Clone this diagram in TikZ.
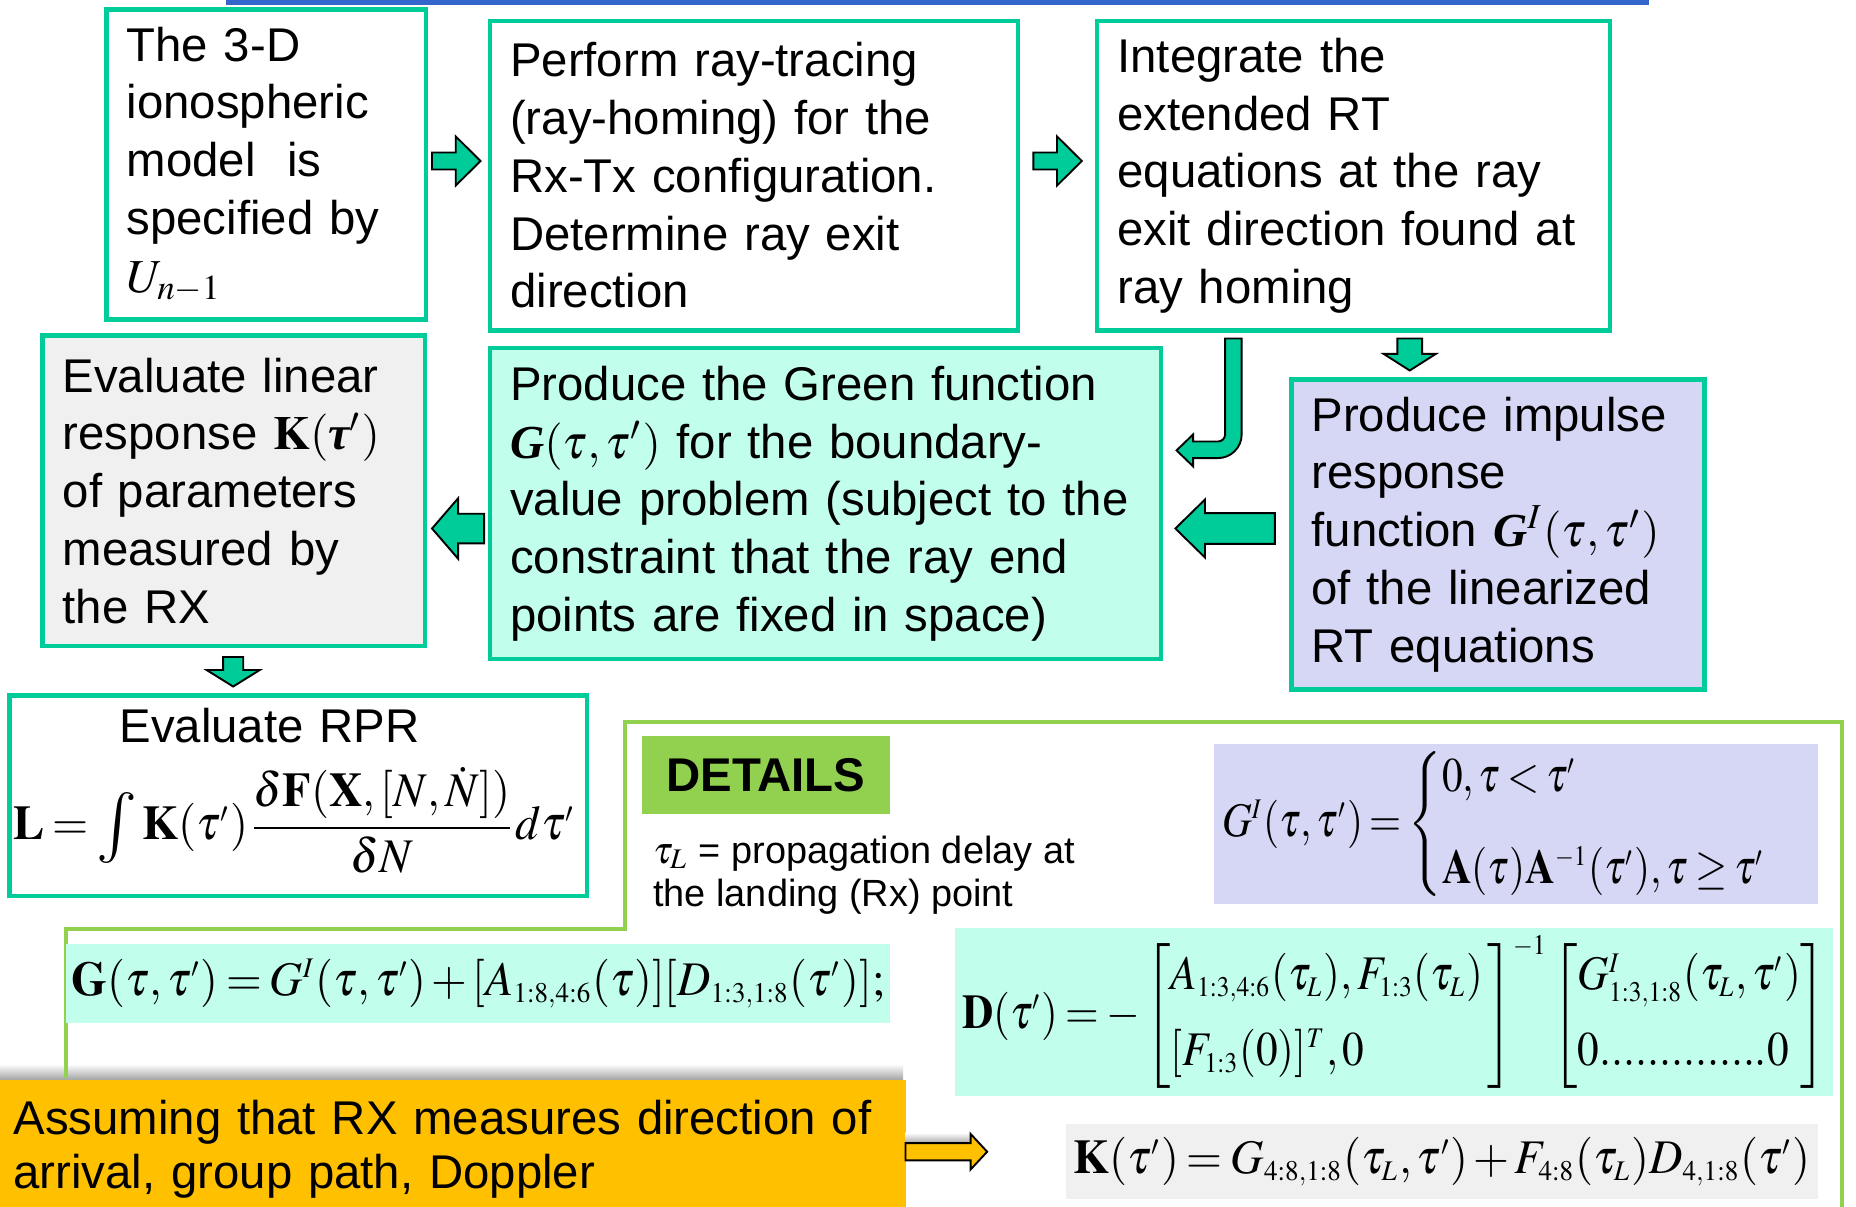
\documentclass[tikz,border=0pt]{standalone}
\usepackage{amsmath}
\usepackage{mathptmx}
\usepackage{graphicx}
\usepackage[no-math]{fontspec}
\setmainfont{Liberation Sans}
\newfontfamily\tnr{Liberation Serif}
\usepackage{tikz}
\DeclareMathSizes{10.2}{10.2}{6}{5}
\definecolor{boxgreen}{RGB}{0,204,153}
\definecolor{mint}{RGB}{193,255,236}
\definecolor{lavender}{RGB}{214,214,245}
\definecolor{panelgray}{RGB}{240,240,240}
\definecolor{leafgreen}{RGB}{146,208,80}
\definecolor{amber}{RGB}{255,192,0}
\definecolor{barblue}{RGB}{51,102,204}
\newcommand{\bG}{\mbox{\tnr\bfseries\itshape G}}
\newcommand{\btau}{\mbox{\tnr\bfseries\itshape τ}}
\newcommand{\fitmath}[2]{\resizebox{#1}{\height}{\fontsize{10.2}{12}\selectfont$\thickmuskip=3mu\medmuskip=2mu #2$}}

\begin{document}
\begin{tikzpicture}[
    x=0.25pt, y=-0.25pt,
    every node/.style={font=\fontsize{10}{12.2}\selectfont},
    stepbox/.style={draw=boxgreen, line width=0.9pt, anchor=north west, align=left, inner xsep=4.25pt, inner ysep=0pt, outer sep=0pt},
    mathbox/.style={anchor=north west, inner sep=0pt, outer sep=0pt},
    arrowline/.style={draw=black, line width=0.4pt},
    pics/blockarrow/.style n args={5}{code={
        \filldraw[arrowline, fill=#5] (0,{-#3}) -- ({#1-#2},{-#3}) -- ({#1-#2},{-#4}) -- (#1,0) -- ({#1-#2},#4) -- ({#1-#2},#3) -- (0,#3) -- cycle;
    }}
]
    \useasboundingbox (0,0) rectangle (1568,1019);
    \fill[barblue] (191,0) rectangle (1393,4.5);

    \node[stepbox, minimum width=67.5pt, minimum height=65.5pt, text width=59pt] (model) at (90,8)
        {The 3-D\\ionospheric\\model\ \ is\\specified by\\$U_{n-1}$};
    \node[stepbox, minimum width=111.5pt, minimum height=65.4pt, text width=103pt] (trace) at (414,17.5)
        {Perform ray-tracing\\(ray-homing) for the\\Rx-Tx configuration.\\Determine ray exit\\direction};
    \node[stepbox, minimum width=108.25pt, minimum height=65.4pt, text width=99.75pt] (integ) at (927,17.5)
        {Integrate the\\extended RT\\equations at the ray\\exit direction found at\\ray homing};
    \node[stepbox, fill=panelgray, minimum width=80.75pt, minimum height=65.5pt, text width=72.25pt] (linresp) at (36,283.5)
        {Evaluate linear\\response $\mathbf{K}(\btau')$\\of parameters\\measured by\\the RX};
    \node[stepbox, fill=mint, minimum width=141.75pt, minimum height=65.75pt, text width=133.25pt] (green) at (414,294)
        {Produce the Green function\\$\bG(\tau,\tau')$ for the boundary-\\value problem (subject to the\\constraint that the ray end\\points are fixed in space)};
    \node[stepbox, fill=lavender, minimum width=87.25pt, minimum height=65.5pt, text width=78.75pt] (impulse) at (1091,320.5)
        {Produce impulse\\response\\function $\bG^{I}(\tau,\tau')$\\of the linearized\\RT equations};
    \node[stepbox, inner xsep=0.85pt, minimum width=122pt, minimum height=42.4pt, text width=120.3pt] (rpr) at (8,587.5)
        {\hspace*{22.4pt}Evaluate RPR\\[4pt]
         \raisebox{0pt}[\height][\dimexpr\depth+2pt\relax]{\fitmath{118.65pt}{\mathbf{L}=\mathop{\vcenter{\hbox{\fontsize{15}{15}\selectfont$\int$}}}\mathbf{K}(\tau')\dfrac{\delta\mathbf{F}(\mathbf{X},[N,\dot{N}])}{\delta N}d\tau'}}};

    \pic at (365,136) {blockarrow={41}{21}{7.2}{20.75}{boxgreen}};
    \pic at (873,136) {blockarrow={41}{21}{7.2}{20.75}{boxgreen}};
    \pic[rotate=-90] at (1191,286) {blockarrow={27}{14}{10.5}{22}{boxgreen}};
    \pic[rotate=180] at (1077,446.5) {blockarrow={84}{25}{13}{24.5}{boxgreen}};
    \pic[rotate=180] at (409,446.5) {blockarrow={44}{22}{12.5}{25.5}{boxgreen}};
    \pic[rotate=-90] at (197,555) {blockarrow={25}{14}{8.5}{22.5}{boxgreen}};
    \filldraw[arrowline, fill=boxgreen] (1035,286) -- (1049,286) -- (1049,367)
        .. controls (1049,378) and (1040,387) .. (1029,387) -- (1008,387) -- (1008,394)
        -- (994,380.5) -- (1008,367) -- (1008,373) -- (1029,373)
        .. controls (1032.3,373) and (1035,370.3) .. (1035,367) -- cycle;

    \shade[top color=white, bottom color=black!35] (0,899) rectangle (763,912);
    \draw[leafgreen, line width=0.9pt] (56,911) -- (56,785) -- (528,785) -- (528,610) -- (1556,610) -- (1556,1030);

    \node[mathbox, fill=leafgreen, minimum width=52.5pt, minimum height=16.5pt, font=\fontsize{10}{12.2}\selectfont\bfseries] (details) at (542,622) {DETAILS};
    \node[mathbox, align=left, font=\fontsize{8}{9.25}\selectfont] (delay) at (552,706)
        {$\tau_L$ = propagation delay at\\the landing (Rx) point};
    \node[mathbox, fill=lavender, minimum width=127.5pt, minimum height=32.1pt] (girf) at (1026,628.5)
        {\fitmath{124.25pt}{G^{I}(\tau,\tau')=\begin{cases}0,\tau<\tau'\\[5pt]\mathbf{A}(\tau)\mathbf{A}^{-1}(\tau'),\tau\geq\tau'\end{cases}}};
    \node[mathbox, fill=mint, minimum width=174pt, minimum height=16.75pt] (gfun) at (56,797.5)
        {\fitmath{171.75pt}{\mathbf{G}(\tau,\tau')=G^{I}(\tau,\tau')+[A_{1{:}8,4{:}6}(\tau)][D_{1{:}3,1{:}8}(\tau')];}};
    \node[mathbox, fill=mint, minimum width=185.4pt, minimum height=35.5pt] (dmat) at (807,784)
        {\fitmath{182.5pt}{\mathbf{D}(\tau')=-\left[\begin{array}{@{}l@{}}A_{1{:}3,4{:}6}(\tau_L),F_{1{:}3}(\tau_L)\,\\[4pt]{}[F_{1{:}3}(0)]^{T},0\end{array}\right]^{-1}\left[\begin{array}{@{}l@{}}G^{I}_{1{:}3,1{:}8}(\tau_L,\tau')\\[4pt]0..............0\end{array}\right]}};
    \node[mathbox, fill=panelgray, minimum width=158.85pt, minimum height=15.85pt] (kfun) at (900.6,949.6)
        {\fitmath{155.6pt}{\mathbf{K}(\tau')=G_{4{:}8,1{:}8}(\tau_L,\tau')+F_{4{:}8}(\tau_L)D_{4,1{:}8}(\tau')}};

    \node[mathbox, fill=amber, inner xsep=2.85pt, align=left, minimum width=191.25pt, minimum height=29.5pt, text width=185.55pt, font=\fontsize{10}{11.5}\selectfont] (assume) at (0,912)
        {Assuming that RX measures direction of\\arrival, group path, Doppler};
    \shade[top color=white, bottom color=black!35] (765,957) rectangle (823,966);
    \pic at (765,973) {blockarrow={69}{14}{7.3}{15}{amber}};
\end{tikzpicture}
\end{document}
